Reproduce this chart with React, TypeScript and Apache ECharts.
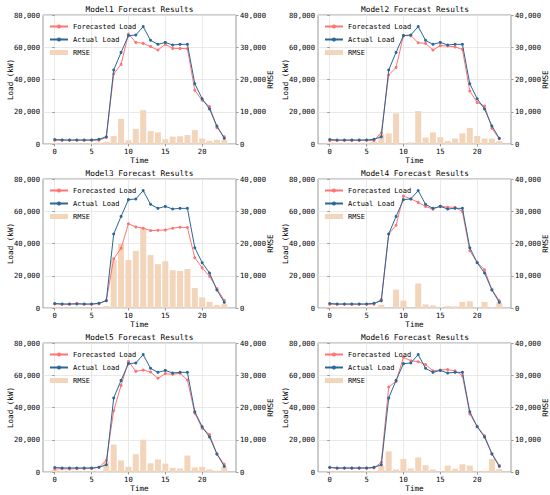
import React, { useEffect, useRef } from "react";
import * as echarts from "echarts";

const hours = [0, 1, 2, 3, 4, 5, 6, 7, 8, 9, 10, 11, 12, 13, 14, 15, 16, 17, 18, 19, 20, 21, 22, 23];
const xTicks = [0, 5, 10, 15, 20];
const modelNames = ["Model1", "Model2", "Model3", "Model4", "Model5", "Model6"];

const actualLoad = [2800, 2500, 2500, 2500, 2500, 2500, 2900, 4500, 45900, 56800, 67200, 67600, 72800, 64300, 61800, 63000, 61400, 61800, 61800, 37400, 28100, 21700, 11200, 3500];

const forecast1 = [2300, 2300, 2300, 2300, 2300, 2300, 2400, 4100, 43400, 49400, 68200, 63000, 62400, 60400, 58300, 61800, 59300, 59300, 59100, 33300, 27100, 23200, 10100, 4500];
const forecast2 = [2200, 2200, 2200, 2200, 2200, 2300, 2200, 7000, 42800, 47500, 67200, 67200, 62800, 62400, 58300, 61000, 60800, 60200, 58700, 32900, 25800, 23600, 9700, 3300];
const forecast3 = [2500, 2300, 2300, 2900, 2300, 2300, 2700, 4800, 30500, 37000, 52200, 50300, 49500, 48000, 48200, 48400, 49500, 50100, 49900, 31200, 24900, 19700, 12000, 4800];
const forecast4 = [2300, 2300, 2300, 2300, 2300, 2300, 2400, 5400, 45900, 51300, 69400, 67700, 65500, 63000, 61300, 63200, 62500, 62500, 59800, 35500, 28300, 23700, 11400, 4600];
const forecast5 = [1900, 2000, 1900, 2100, 2100, 2200, 2900, 7200, 38000, 53700, 68600, 62400, 63300, 62000, 58100, 61000, 60600, 61200, 57000, 36400, 27100, 23200, 11200, 4800];
const forecast6 = [2900, 2300, 2400, 2300, 2400, 2400, 2500, 6000, 52700, 56200, 71100, 69000, 68400, 66600, 62800, 63300, 63500, 62800, 59700, 36000, 28300, 22500, 11400, 4100];

const rmse1 = [300, 200, 200, 200, 200, 300, 400, 700, 2500, 7800, 1200, 4700, 10500, 4000, 3600, 1500, 2300, 2400, 2800, 4300, 1700, 1000, 1300, 1300];
const rmse2 = [400, 300, 300, 300, 300, 300, 700, 3100, 3300, 9500, 200, 500, 10200, 2000, 3600, 2100, 900, 1700, 3300, 5000, 2500, 1700, 1700, 900];
const rmse3 = [200, 200, 200, 400, 200, 200, 200, 600, 14900, 19900, 14900, 17700, 24900, 16400, 13600, 14500, 11700, 11500, 12100, 6200, 3300, 1900, 900, 1200];
const rmse4 = [300, 200, 200, 200, 200, 200, 300, 1000, 100, 5700, 2300, 100, 7600, 1100, 800, 100, 600, 500, 1900, 2100, 100, 1900, 300, 1700];
const rmse5 = [600, 300, 300, 200, 200, 200, 300, 3200, 8500, 3600, 1600, 5500, 10000, 2700, 3900, 2600, 1300, 1100, 5100, 1400, 1600, 800, 400, 1700];
const rmse6 = [200, 200, 200, 200, 200, 200, 300, 2000, 6400, 800, 4000, 1100, 4500, 2100, 800, 100, 2000, 1000, 2400, 2000, 100, 400, 4000, 900];

const forecasts = [forecast1, forecast2, forecast3, forecast4, forecast5, forecast6];
const rmses = [rmse1, rmse2, rmse3, rmse4, rmse5, rmse6];

const FONT = "DejaVu Sans Mono";
const RED = "#FF7373";
const BLUE = "#2B6797";
const BAR = "#F3D5BB";
const FRAME = "#9a9a9a";
const GRIDC = "#e3e3e3";
const TXT = "#000";

const colLeft = [43, 318];
const colWidth = [193, 194];
const rowTop = [15, 179, 343];
const plotH = 129;

const fmt = (v: number) => v.toLocaleString("en-US");

function buildOption() {
  const grid: any[] = [];
  const xAxis: any[] = [];
  const yAxis: any[] = [];
  const series: any[] = [];
  const legend: any[] = [];
  const title: any[] = [];

  modelNames.forEach((name, i) => {
    const c = i % 2;
    const r = Math.floor(i / 2);
    const left = colLeft[c];
    const top = rowTop[r];
    const width = colWidth[c];
    grid.push({
      left,
      top,
      width,
      height: plotH,
      show: true,
      borderColor: FRAME,
      borderWidth: 1,
      backgroundColor: "transparent",
    });
    title.push({
      text: name + " Forecast Results",
      left: left + width / 2,
      top: top - 10,
      textAlign: "center",
      padding: 0,
      textStyle: { fontFamily: FONT, fontSize: 7.8, fontWeight: "normal", color: TXT },
    });
    xAxis.push({
      type: "value",
      gridIndex: i,
      min: -1.59,
      max: 24.59,
      name: "Time",
      nameLocation: "middle",
      nameGap: 12,
      nameMoveOverlap: false,
      nameTextStyle: { fontFamily: FONT, fontSize: 7.6, color: TXT },
      axisLine: { show: false },
      axisTick: { show: true, length: 2.5, customValues: xTicks, lineStyle: { color: FRAME } },
      axisLabel: { customValues: xTicks, fontFamily: FONT, fontSize: 7.2, color: TXT, margin: 4 },
      splitLine: { show: true, lineStyle: { color: GRIDC, width: 0.8 } },
    });
    yAxis.push({
      type: "value",
      gridIndex: i,
      min: 0,
      max: 80000,
      interval: 20000,
      position: "left",
      name: "Load (kW)",
      nameLocation: "middle",
      nameRotate: 90,
      nameGap: 29,
      nameMoveOverlap: false,
      nameTextStyle: { fontFamily: FONT, fontSize: 7.6, color: TXT },
      axisLine: { show: false },
      axisTick: { show: true, length: 2.5, lineStyle: { color: FRAME } },
      axisLabel: { formatter: fmt, fontFamily: FONT, fontSize: 7.2, color: TXT, margin: 3 },
      splitLine: { show: true, lineStyle: { color: GRIDC, width: 0.8 } },
    });
    yAxis.push({
      type: "value",
      gridIndex: i,
      min: 0,
      max: 40000,
      interval: 10000,
      position: "right",
      name: "RMSE",
      nameLocation: "middle",
      nameRotate: 90,
      nameGap: 30,
      nameMoveOverlap: false,
      nameTextStyle: { fontFamily: FONT, fontSize: 7.6, color: TXT },
      axisLine: { show: false },
      axisTick: { show: true, length: 2.5, lineStyle: { color: FRAME } },
      axisLabel: { formatter: fmt, fontFamily: FONT, fontSize: 7.2, color: TXT, margin: 4 },
      splitLine: { show: false },
    });
    series.push({
      type: "bar",
      name: "RMSE",
      xAxisIndex: i,
      yAxisIndex: 2 * i + 1,
      data: hours.map((h, k) => [h, rmses[i][k]]),
      barWidth: 6,
      itemStyle: { color: BAR },
      z: 1,
    });
    series.push({
      type: "line",
      name: "Forecasted Load",
      xAxisIndex: i,
      yAxisIndex: 2 * i,
      data: hours.map((h, k) => [h, forecasts[i][k]]),
      symbol: "circle",
      symbolSize: 3,
      itemStyle: { color: RED },
      lineStyle: { color: RED, width: 1 },
      z: 3,
    });
    series.push({
      type: "line",
      name: "Actual Load",
      xAxisIndex: i,
      yAxisIndex: 2 * i,
      data: hours.map((h, k) => [h, actualLoad[k]]),
      symbol: "circle",
      symbolSize: 3,
      itemStyle: { color: BLUE },
      lineStyle: { color: BLUE, width: 1 },
      z: 4,
    });
    legend.push({
      left: left + 6,
      top: top + 8,
      orient: "vertical",
      itemWidth: 18,
      itemHeight: 5,
      itemGap: 6,
      padding: 0,
      selectedMode: false,
      textStyle: { fontFamily: FONT, fontSize: 7, color: TXT },
      data: [
        { name: "Forecasted Load" },
        { name: "Actual Load" },
        { name: "RMSE", icon: "rect" },
      ],
    });
  });

  return {
    animation: false,
    backgroundColor: "#ffffff",
    title,
    legend,
    grid,
    xAxis,
    yAxis,
    series,
  };
}

export default function App() {
  const ref = useRef<HTMLDivElement>(null);
  useEffect(() => {
    if (!ref.current) return;
    const chart = echarts.init(ref.current, undefined, { renderer: "svg" });
    chart.setOption(buildOption() as any);
    return () => {
      chart.dispose();
    };
  }, []);
  return (
    <div
      ref={ref}
      style={{ position: "absolute", left: 0, top: 0, width: 550, height: 495, background: "#fff" }}
    />
  );
}
